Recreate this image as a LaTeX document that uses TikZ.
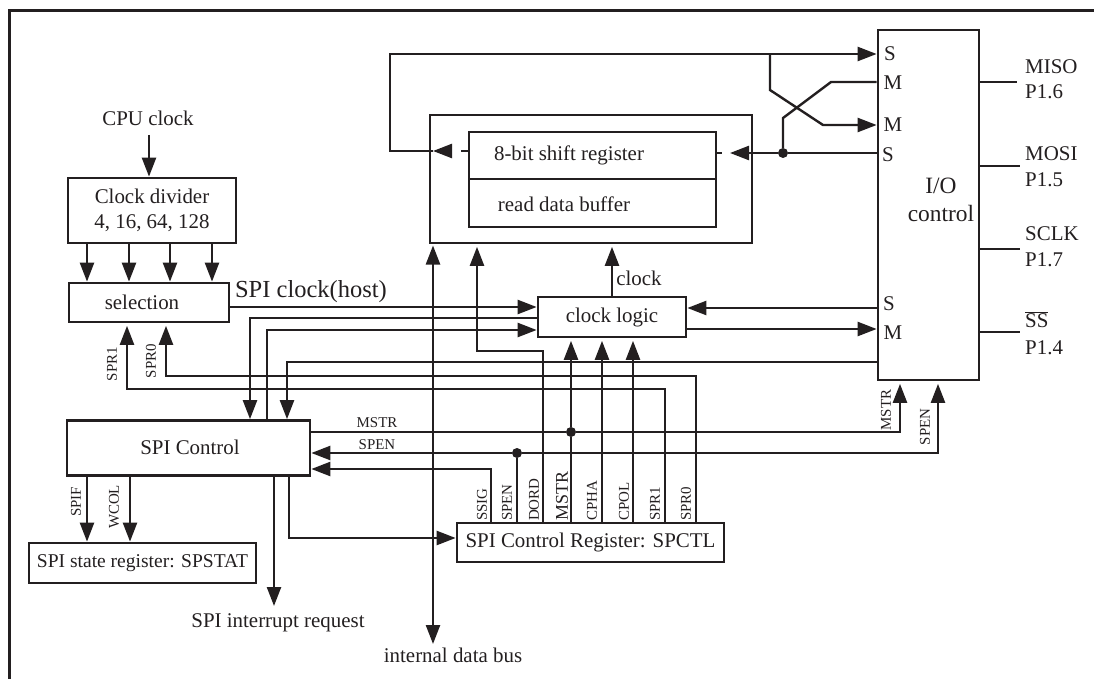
\documentclass[tikz,border=0pt]{standalone}
\usepackage{fontspec}
\setmainfont{Liberation Serif}
\usetikzlibrary{arrows.meta}
\definecolor{inkblack}{HTML}{231F20}
\tikzset{
    box/.style={draw=inkblack,line width=2.7bp,inner sep=0pt,text=inkblack,font=\fontsize{21}{25}\selectfont,align=center},
    txt/.style={inner sep=0pt,text=inkblack,font=\fontsize{21}{25}\selectfont,align=center},
    tag/.style={inner sep=0pt,text=inkblack,font=\fontsize{15}{15}\selectfont},
    vtag/.style={tag,rotate=90},
    wire/.style={draw=inkblack,line width=2.4bp},
    sig/.style={wire,->},
    gap/.style={shorten >=2.5bp},
    dot/.style={circle,fill=inkblack,inner sep=0pt,minimum size=10bp}
}
\begin{document}
\begin{tikzpicture}[x=1bp,y=-1bp,>={Triangle[length=19bp,width=14bp]}]
        \useasboundingbox (0,0) rectangle (1094,679);
        \draw[inkblack,line width=3bp] (9,679) -- (9,11) -- (1094,11);

        \node[txt] (cpulabel) at (148,118) {CPU clock};
        \node[box,minimum width=168bp,minimum height=65bp] (divider) at (152,210.5) {Clock divider\\4, 16, 64, 128};
        \node[box,minimum width=160bp,minimum height=39bp] (selection) at (149,302.5) {};
        \node[txt] (sellabel) at (142,302) {selection};
        \node[box,minimum width=243bp,minimum height=55bp] (spictl) at (188.5,448) {};
        \node[txt] (spilabel) at (190,447) {SPI Control};
        \node[box,minimum width=227bp,minimum height=40bp,font=\fontsize{19.6}{24}\selectfont] (spstat) at (142.5,563) {SPI state register: SPSTAT};
        \node[box,minimum width=267bp,minimum height=39bp] (spctl) at (590.5,542.5) {SPI Control Register: SPCTL};
        \node[box,minimum width=148bp,minimum height=40bp] (clklogic) at (612,317) {clock logic};
        \node[box,minimum width=322bp,minimum height=128bp] (bufbox) at (591,179) {};
        \node[box,minimum width=247bp,minimum height=47bp] (shiftbox) at (592.5,155.5) {};
        \node[box,minimum width=247bp,minimum height=48bp] (readbox) at (592.5,203) {};
        \node[txt] (shiftlabel) at (569,155) {8-bit shift register};
        \node[txt] (readlabel) at (564,204) {read data buffer};
        \node[box,minimum width=101bp,minimum height=350bp] (iobox) at (928.5,205) {};
        \node[txt,font=\fontsize{23.5}{28}\selectfont] (iolabel) at (941,200) {I/O\\control};

        \node[txt] (s1) at (890,54) {S};
        \node[txt] (m1) at (893,83) {M};
        \node[txt] (m2) at (893,125) {M};
        \node[txt] (s2) at (888,155) {S};
        \node[txt] (s3) at (889,304) {S};
        \node[txt] (m3) at (893,333) {M};

        \node[txt,anchor=west] (miso) at (1025,67) {MISO};
        \node[txt,anchor=west] (p16) at (1025,92) {P1.6};
        \node[txt,anchor=west] (mosi) at (1025,154) {MOSI};
        \node[txt,anchor=west] (p15) at (1025,180) {P1.5};
        \node[txt,anchor=west] (sclk) at (1025,234) {SCLK};
        \node[txt,anchor=west] (p17) at (1025,260) {P1.7};
        \node[txt,anchor=west] (ss) at (1025,320) {$\overline{\mbox{SS}}$};
        \node[txt,anchor=west] (p14) at (1025,348) {P1.4};

        \node[txt,font=\fontsize{24.6}{28}\selectfont] (spiclk) at (311,292) {SPI clock(host)};
        \node[txt] (clklabel) at (639,278) {clock};
        \node[txt] (irqlabel) at (278,623) {SPI interrupt request};
        \node[txt] (buslabel) at (453,655) {internal data bus};

        \node[tag] (mstrh) at (377,423) {MSTR};
        \node[tag] (spenh) at (377,445) {SPEN};
        \node[vtag] (mstrio) at (886,410) {MSTR};
        \node[vtag] (spenio) at (925,427) {SPEN};
        \node[vtag] (spr1s) at (112,364) {SPR1};
        \node[vtag] (spr0s) at (151,361) {SPR0};
        \node[vtag] (spif) at (76,502) {SPIF};
        \node[vtag] (wcol) at (114,507) {WCOL};
        \node[vtag,anchor=west] (ssig) at (482,521) {SSIG};
        \node[vtag,anchor=west] (spenb) at (507,521) {SPEN};
        \node[vtag,anchor=west] (dord) at (534,521) {DORD};
        \node[vtag,anchor=west,font=\fontsize{18}{18}\selectfont] (mstrb) at (562,521) {MSTR};
        \node[vtag,anchor=west] (cpha) at (592,521) {CPHA};
        \node[vtag,anchor=west] (cpol) at (624,521) {CPOL};
        \node[vtag,anchor=west] (spr1b) at (655,521) {SPR1};
        \node[vtag,anchor=west] (spr0b) at (686,521) {SPR0};

        \node[dot] (dotshift) at (783,153) {};
        \node[dot] (dotmstr) at (571,432) {};
        \node[dot] (dotspen) at (517,453) {};
        \coordinate (cpuout) at (149,135);
        \coordinate (bufout) at (433,151);
        \coordinate (bufin) at (730,153);
        \coordinate (topjoin) at (770,54);
        \coordinate (irqout) at (274,606);
        \coordinate (busup) at (433,243);
        \coordinate (busdown) at (433,644);
        \coordinate (misoend) at (1017,82);
        \coordinate (mosiend) at (1020,166);
        \coordinate (sclkend) at (1020,249);
        \coordinate (ssend) at (1020,332);

        \draw[sig] (cpuout) -- (cpuout |- divider.north);
        \draw[sig] (divider.south -| 87,0) -- (selection.north -| 87,0);
        \draw[sig] (divider.south -| 129,0) -- (selection.north -| 129,0);
        \draw[sig] (divider.south -| 170,0) -- (selection.north -| 170,0);
        \draw[sig] (divider.south -| 212,0) -- (selection.north -| 212,0);

        \draw[sig,dash pattern=on 7bp off 10bp on 100bp off 0bp] (shiftbox.west |- bufout) -- (bufout);
        \draw[wire] (bufout) -- (390,151) -- (390,54) -- (topjoin);
        \draw[sig] (topjoin) -- (s1 -| iobox.west);
        \draw[sig] (topjoin) -- (770,90) -- (823,125) -- (iobox.west |- 0,125);
        \draw[wire] (dotshift) -- (783,118) -- (831,82) -- (iobox.west |- 0,82);
        \draw[wire] (iobox.west |- dotshift) -- (dotshift);
        \draw[sig] (dotshift) -- (bufin);
        \draw[wire,dash pattern=on 5bp off 100bp] (shiftbox.east |- bufin) -- (bufin);

        \draw[wire,<->,shorten <=2.5bp] (busup) -- (busdown);
        \draw[sig,gap] (spctl.north -| 543,0) -- (543,351) -- (477,351) -- (bufbox.south -| 477,0);
        \draw[sig,gap] (clklogic.north) -- (clklogic.north |- bufbox.south);

        \draw[sig] (selection.east |- 0,307) -- (clklogic.west |- 0,307);
        \draw[sig] (clklogic.west |- 0,318) -- (250,318) -- (spictl.north -| 250,0);
        \draw[sig] (spictl.north -| 267,0) -- (267,330) -- (clklogic.west |- 0,330);
        \draw[sig] (iobox.west |- 0,362) -- (287,362) -- (spictl.north -| 287,0);
        \draw[sig] (iobox.west |- 0,308) -- (clklogic.east |- 0,308);
        \draw[sig] (clklogic.east |- 0,329) -- (iobox.west |- 0,329);

        \draw[sig,gap] (spctl.north -| 696,0) -- (696,376) -- (166,376) -- (selection.south -| 166,0);
        \draw[sig,gap] (spctl.north -| 665,0) -- (665,389) -- (127,389) -- (selection.south -| 127,0);
        \draw[wire] (spctl.north -| dotmstr) -- (dotmstr);
        \draw[sig,gap] (dotmstr) -- (clklogic.south -| dotmstr);
        \draw[sig,gap] (spctl.north -| 602,0) -- (clklogic.south -| 602,0);
        \draw[sig,gap] (spctl.north -| 633,0) -- (clklogic.south -| 633,0);

        \draw[wire] (spictl.east |- dotmstr) -- (dotmstr);
        \draw[sig,gap] (dotmstr) -- (900,432) -- (iobox.south -| 900,0);
        \draw[sig,gap] (dotspen) -- (938,453) -- (iobox.south -| 938,0);
        \draw[sig] (dotspen) -- (spictl.east |- dotspen);
        \draw[wire] (spctl.north -| dotspen) -- (dotspen);
        \draw[sig] (spctl.north -| 491,0) -- (491,469) -- (spictl.east |- 0,469);

        \draw[sig] (spictl.south -| 87,0) -- (spstat.north -| 87,0);
        \draw[sig] (spictl.south -| 130,0) -- (spstat.north -| 130,0);
        \draw[sig] (spictl.south -| irqout) -- (irqout);
        \draw[sig] (spictl.south -| 289,0) -- (289,538) -- (spctl.west |- 0,538);

        \draw[wire] (iobox.east |- misoend) -- (misoend);
        \draw[wire] (iobox.east |- mosiend) -- (mosiend);
        \draw[wire] (iobox.east |- sclkend) -- (sclkend);
        \draw[wire] (iobox.east |- ssend) -- (ssend);
    \end{tikzpicture}
\end{document}
